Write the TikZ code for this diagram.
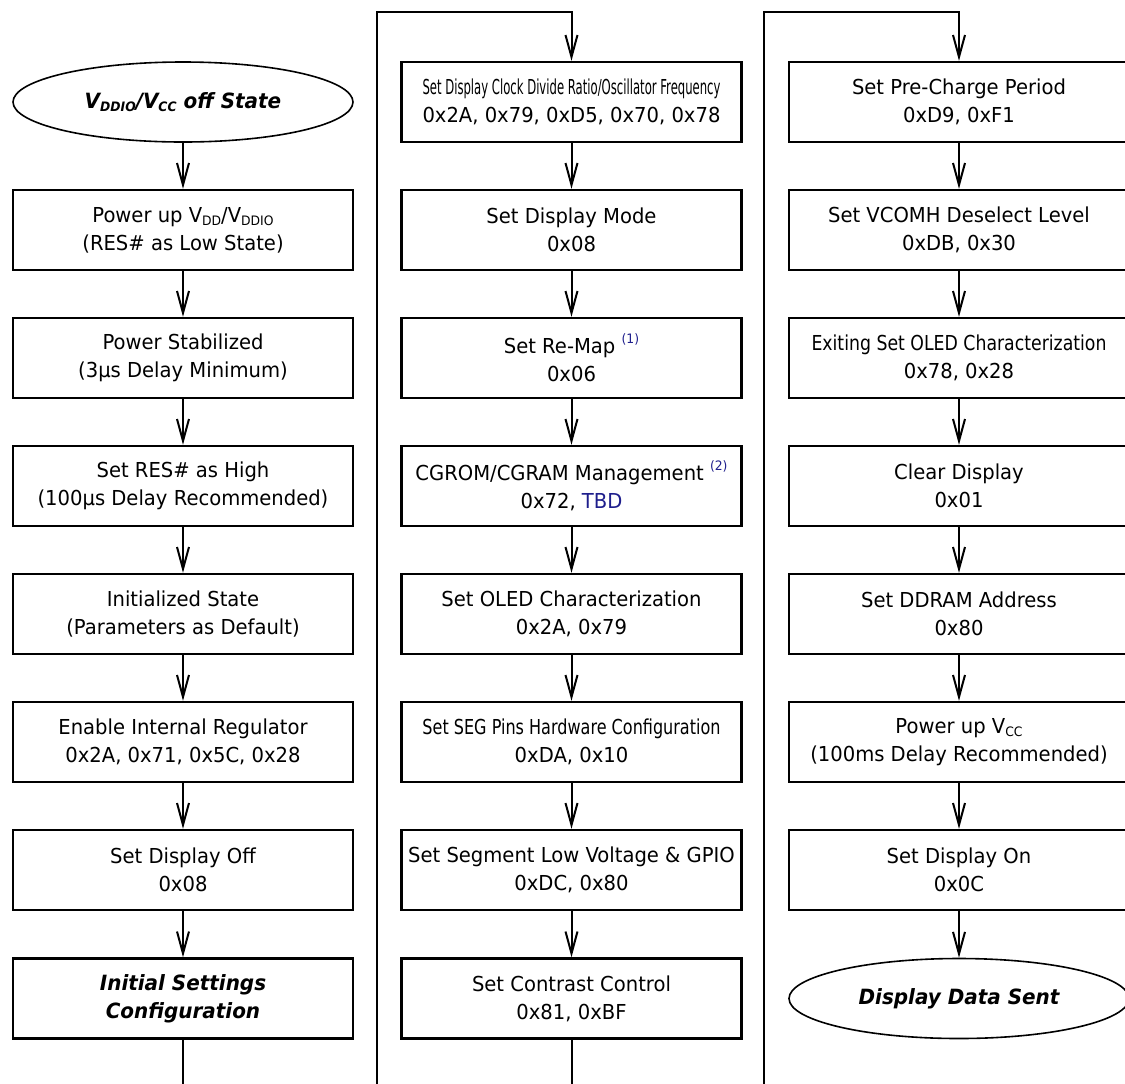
\documentclass[tikz,border=0pt]{standalone}
\usepackage{fontspec}
\setmainfont{DejaVu Sans}[FakeStretch=0.95]
\usetikzlibrary{shapes.geometric, arrows.meta}
\definecolor{notecol}{RGB}{30,30,140}
\newcommand{\lo}[1]{\raisebox{-0.3ex}{\fontsize{6.5}{7}\selectfont #1}}
\newcommand{\nt}[1]{\raisebox{0.9ex}{\textcolor{notecol}{\fontsize{6.5}{7}\selectfont (#1)}}}
\newcommand{\squeeze}[2]{\resizebox{#1}{\height}{#2}}

\begin{document}
\begin{tikzpicture}[x=0.5pt, y=-0.5pt,
    >={Straight Barb[length=11pt,width=6pt,line width=1pt]},
    stepbox/.style={draw, line width=1.2pt, minimum width=170pt, minimum height=40pt, inner sep=0pt, align=center, font=\fontsize{10.3}{14}\selectfont},
    endcap/.style={draw, ellipse, line width=0.8pt, minimum width=170pt, minimum height=40pt, inner sep=0pt, align=center, font=\fontsize{10.5}{14}\selectfont\bfseries\itshape},
    flow/.style={line width=1pt, ->},
    wire/.style={line width=1pt}]
    \useasboundingbox (0,0) rectangle (1125,1083);
    \def\colA{183}
    \def\colB{571.5}
    \def\colC{959}
    % first column
    \node[endcap] (a0) at (\colA,102) {V\lo{DDIO}/V\lo{CC} off State};
    \node[stepbox] (a1) at (\colA,230) {Power up V\lo{DD}/V\lo{DDIO}\\(RES\# as Low State)};
    \node[stepbox] (a2) at (\colA,358) {Power Stabilized\\(3µs Delay Minimum)};
    \node[stepbox] (a3) at (\colA,486) {Set RES\# as High\\(100µs Delay Recommended)};
    \node[stepbox] (a4) at (\colA,614) {Initialized State\\(Parameters as Default)};
    \node[stepbox] (a5) at (\colA,742) {Enable Internal Regulator\\0x2A, 0x71, 0x5C, 0x28};
    \node[stepbox] (a6) at (\colA,870) {Set Display Off\\0x08};
    \node[stepbox, font=\fontsize{10.5}{14}\selectfont\bfseries\itshape] (a7) at (\colA,998.5) {Initial Settings\\Configuration};
    % second column
    \node[stepbox] (b0) at (\colB,102) {\squeeze{149pt}{Set Display Clock Divide Ratio/Oscillator Frequency}\\0x2A, 0x79, 0xD5, 0x70, 0x78};
    \node[stepbox] (b1) at (\colB,230) {Set Display Mode\\0x08};
    \node[stepbox] (b2) at (\colB,358) {Set Re-Map \nt{1}\\0x06};
    \node[stepbox] (b3) at (\colB,486) {CGROM/CGRAM Management \nt{2}\\0x72, \textcolor{notecol}{TBD}};
    \node[stepbox] (b4) at (\colB,614) {Set OLED Characterization\\0x2A, 0x79};
    \node[stepbox] (b5) at (\colB,742) {\squeeze{149pt}{Set SEG Pins Hardware Configuration}\\0xDA, 0x10};
    \node[stepbox] (b6) at (\colB,870) {Set Segment Low Voltage \& GPIO\\0xDC, 0x80};
    \node[stepbox] (b7) at (\colB,998.5) {Set Contrast Control\\0x81, 0xBF};
    % third column
    \node[stepbox] (c0) at (\colC,102) {Set Pre-Charge Period\\0xD9, 0xF1};
    \node[stepbox] (c1) at (\colC,230) {Set VCOMH Deselect Level\\0xDB, 0x30};
    \node[stepbox] (c2) at (\colC,358) {\squeeze{147.5pt}{Exiting Set OLED Characterization}\\0x78, 0x28};
    \node[stepbox] (c3) at (\colC,486) {Clear Display\\0x01};
    \node[stepbox] (c4) at (\colC,614) {Set DDRAM Address\\0x80};
    \node[stepbox] (c5) at (\colC,742) {Power up V\lo{CC}\\(100ms Delay Recommended)};
    \node[stepbox] (c6) at (\colC,870) {Set Display On\\0x0C};
    \node[endcap] (c7) at (\colC,998.5) {Display Data Sent};
    % arrows down each column
    \foreach \i [evaluate=\i as \j using int(\i+1)] in {0,...,6} {
        \draw[flow] (a\i) -- (a\j);
        \draw[flow] (b\i) -- (b\j);
        \draw[flow] (c\i) -- (c\j);
    }
    % lines leaving and entering the columns
    \coordinate (aout) at (\colA,1090);
    \coordinate (bout) at (\colB,1090);
    \coordinate (bin) at (377,1090);
    \coordinate (btop) at (377,12);
    \coordinate (cin) at (764,1090);
    \coordinate (ctop) at (764,12);
    \draw[wire] (a7) -- (aout);
    \draw[wire] (b7) -- (bout);
    \draw[flow] (bin) -- (btop) -| (b0);
    \draw[flow] (cin) -- (ctop) -| (c0);
\end{tikzpicture}
\end{document}
